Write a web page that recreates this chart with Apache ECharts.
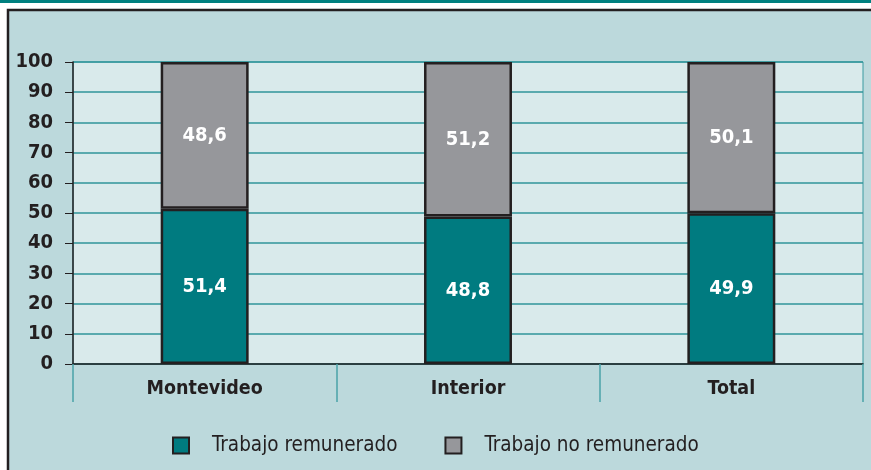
<!DOCTYPE html>
<html>
<head>
<meta charset="utf-8">
<script src="https://cdn.jsdelivr.net/npm/echarts@6/dist/echarts.min.js"></script>
<style>html,body{margin:0;padding:0;background:#fff}#chart{width:871px;height:470px}</style>
</head>
<body>
<div id="chart"></div>
<script type="text/javascript">
var categorias = ['Montevideo', 'Interior', 'Total'];
var remunerado = [51.4, 48.8, 49.9];
var noRemunerado = [48.6, 51.2, 50.1];
var nombres = ['Trabajo remunerado', 'Trabajo no remunerado'];

var fuente = '"DejaVu Sans Condensed", sans-serif';
var oscuro = '#231f20';
var chart = echarts.init(document.getElementById('chart'));

function etiqueta(p) {
    return p.value.toFixed(1).replace('.', ',');
}

var option = {
    backgroundColor: '#ffffff',
    animation: false,
    graphic: [
        { type: 'rect', shape: { x: 0, y: 0, width: 871, height: 3 }, style: { fill: '#00807f' }, z: -10 },
        { type: 'rect', shape: { x: 8, y: 10, width: 880, height: 470 }, style: { fill: '#bcd9dc', stroke: oscuro, lineWidth: 2.5 }, z: -10 }
    ],
    legend: {
        bottom: 9,
        left: 167,
        itemWidth: 16,
        itemHeight: 16,
        itemGap: 47,
        icon: 'rect',
        textStyle: { fontFamily: fuente, fontSize: 20.5, color: oscuro, padding: [0, 0, 0, 18] },
        data: nombres
    },
    grid: {
        left: 73, right: 8, top: 62, bottom: 106,
        show: true, backgroundColor: '#d9eaeb', borderColor: '#3a9ba0', borderWidth: 1
    },
    xAxis: {
        type: 'category',
        data: categorias,
        axisLine: { lineStyle: { color: oscuro, width: 1.5 } },
        axisTick: { show: true, length: 38, lineStyle: { color: '#4aa3a8', width: 1.5 } },
        axisLabel: { fontFamily: fuente, fontWeight: 'bold', fontSize: 19.5, color: oscuro, margin: 15 }
    },
    yAxis: {
        type: 'value',
        min: 0, max: 100, interval: 10,
        axisLine: { show: true, lineStyle: { color: oscuro, width: 1.5 } },
        axisTick: { show: true, length: 8, lineStyle: { color: oscuro } },
        splitLine: { lineStyle: { color: '#2f959a', width: 1.5 } },
        axisLabel: { fontFamily: fuente, fontWeight: 'bold', fontSize: 20, color: oscuro, margin: 20 }
    },
    series: [
        {
            name: nombres[0], type: 'bar', stack: 'a', data: remunerado, barWidth: '33.4%',
            itemStyle: { color: '#007b80', borderColor: oscuro, borderWidth: 2.5 },
            label: { show: true, position: 'inside', formatter: etiqueta, color: '#fff', fontFamily: fuente, fontWeight: 'bold', fontSize: 20 }
        },
        {
            name: nombres[1], type: 'bar', stack: 'a', data: noRemunerado, barWidth: '33.4%',
            itemStyle: { color: '#96979b', borderColor: oscuro, borderWidth: 2.5 },
            label: { show: true, position: 'inside', formatter: etiqueta, color: '#fff', fontFamily: fuente, fontWeight: 'bold', fontSize: 20 }
        }
    ]
};
chart.setOption(option);
</script>
</body>
</html>
